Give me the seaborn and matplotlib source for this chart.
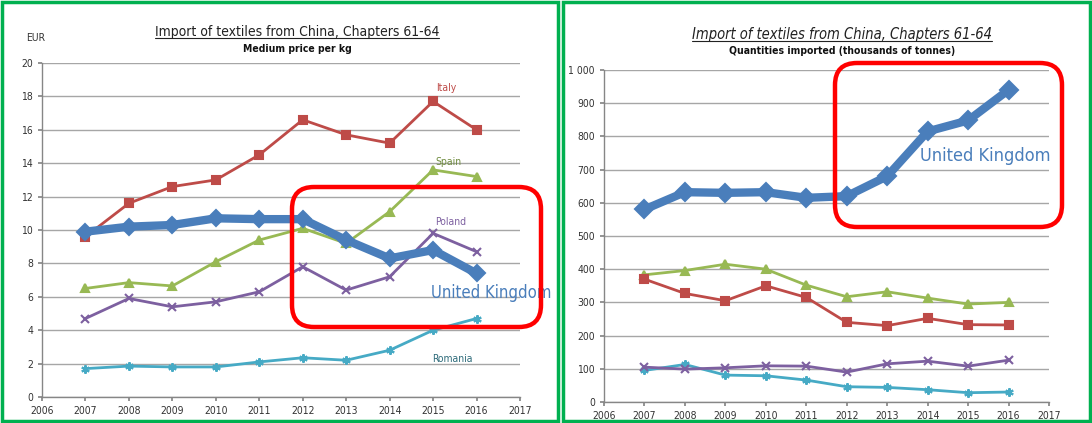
import numpy as np
import pandas as pd
import matplotlib
matplotlib.use('Agg')
import matplotlib.pyplot as plt
import seaborn as sns
from matplotlib.patches import FancyBboxPatch, Rectangle

sns.set_theme(style="white")
plt.rcParams['font.family'] = ['DejaVu Sans']
plt.rcParams['font.stretch'] = 'condensed'

years = [2007, 2008, 2009, 2010, 2011, 2012, 2013, 2014, 2015, 2016]
countries = ['United Kingdom', 'Italy', 'Spain', 'Poland', 'Romania']

# medium price per kg (EUR)
price_uk = [9.9, 10.2, 10.3, 10.7, 10.65, 10.65, 9.4, 8.3, 8.8, 7.4]
price_it = [9.6, 11.6, 12.6, 13.0, 14.5, 16.6, 15.7, 15.2, 17.7, 16.0]
price_es = [6.5, 6.85, 6.65, 8.1, 9.4, 10.1, 9.2, 11.1, 13.6, 13.2]
price_pl = [4.7, 5.9, 5.4, 5.7, 6.3, 7.8, 6.4, 7.2, 9.8, 8.7]
price_ro = [1.7, 1.85, 1.8, 1.8, 2.1, 2.35, 2.2, 2.8, 4.0, 4.7]

# quantities imported (thousands of tonnes)
qty_uk = [580, 632, 630, 632, 615, 620, 680, 815, 848, 940]
qty_it = [370, 327, 305, 350, 315, 240, 230, 252, 233, 232]
qty_es = [383, 396, 415, 400, 352, 317, 332, 313, 295, 300]
qty_pl = [105, 99, 103, 109, 108, 90, 115, 123, 108, 126]
qty_ro = [95, 113, 81, 79, 66, 46, 44, 37, 28, 30]

colors = {'United Kingdom': '#4A7EBB', 'Italy': '#BE4B48', 'Spain': '#98B954',
          'Poland': '#7D60A0', 'Romania': '#46AAC5'}
markers = {'United Kingdom': 'D', 'Italy': 's', 'Spain': '^', 'Poland': 'x',
           'Romania': (6, 2, 0)}


def make_df(uk, it, es, pl, ro):
    vals = {'United Kingdom': uk, 'Italy': it, 'Spain': es, 'Poland': pl, 'Romania': ro}
    rows = []
    for c in countries:
        for y, v in zip(years, vals[c]):
            rows.append((c, y, v))
    return pd.DataFrame(rows, columns=['country', 'year', 'value'])


def draw(ax, df, uk_ms):
    for c in ['Romania', 'Poland', 'Spain', 'Italy', 'United Kingdom']:
        sub = df[df.country == c]
        big = c == 'United Kingdom'
        sns.lineplot(data=sub, x='year', y='value', ax=ax, color=colors[c],
                     linewidth=6 if big else 2.0, marker=markers[c],
                     markersize=uk_ms if big else 6,
                     markeredgecolor=colors[c], markeredgewidth=1.5,
                     legend=False, zorder=5 if big else 3)
    ax.set_xlim(2006, 2017)
    ax.set_xticks(range(2006, 2018))
    ax.set_xlabel('')
    ax.set_ylabel('')
    ax.grid(axis='y', color='#A6A6A6', linewidth=1.0)
    for s in ['top', 'right']:
        ax.spines[s].set_visible(False)
    for s in ['left', 'bottom']:
        ax.spines[s].set_color('#868686')
        ax.spines[s].set_linewidth(1.0)
    ax.tick_params(axis='both', labelsize=7.5, colors='#333333', length=3,
                   direction='out', left=True, bottom=True, color='#868686')


fig = plt.figure(figsize=(10.92, 4.23), dpi=100)

ax1 = fig.add_axes([42 / 1092, 1 - 397 / 423, 478 / 1092, 334 / 423])
draw(ax1, make_df(price_uk, price_it, price_es, price_pl, price_ro), 8)
ax1.set_ylim(0, 20)
ax1.set_yticks(range(0, 21, 2))

ax2 = fig.add_axes([604 / 1092, 1 - 402 / 423, 445 / 1092, 332 / 423])
draw(ax2, make_df(qty_uk, qty_it, qty_es, qty_pl, qty_ro), 9)
ax2.set_ylim(0, 1000)
ax2.set_yticks(range(0, 1001, 100))
ax2.set_yticklabels([f'{v:,}'.replace(',', ' ') for v in range(0, 1001, 100)])

# series labels
ax1.text(2015.3, 18.5, 'Italy', color=colors['Italy'], fontsize=7.5, ha='center', va='center')
ax1.text(2015.35, 14.05, 'Spain', color='#6E8B3D', fontsize=7.5, ha='center', va='center')
ax1.text(2015.4, 10.5, 'Poland', color=colors['Poland'], fontsize=7.5, ha='center', va='center')
ax1.text(2015.45, 2.28, 'Romania', color='#2E6B7A', fontsize=7.5, ha='center', va='center')
ax1.text(2016.33, 6.2, 'United Kingdom', color=colors['United Kingdom'], fontsize=12,
         ha='center', va='center')
ax2.text(2015.42, 741, 'United Kingdom', color=colors['United Kingdom'], fontsize=13,
         ha='center', va='center')

# titles
t1 = fig.text(297 / 1092, 1 - 32 / 423, 'Import of textiles from China, Chapters 61-64',
              ha='center', va='center', fontsize=10, color='#222222')
fig.text(297 / 1092, 1 - 49 / 423, 'Medium price per kg', ha='center', va='center',
         fontsize=7.5, fontweight='bold', color='#111111')
fig.text(36 / 1092, 1 - 38 / 423, 'EUR', ha='center', va='center', fontsize=7.5, color='#333333')
t2 = fig.text(842 / 1092, 1 - 35 / 423, 'Import of textiles from China, Chapters 61-64',
              ha='center', va='center', fontsize=10.5, style='italic', color='#222222')
fig.text(842 / 1092, 1 - 51 / 423, 'Quantities imported (thousands of tonnes)',
         ha='center', va='center', fontsize=7.5, fontweight='bold', color='#111111')

# underline titles using their rendered extent
fig.canvas.draw()
for t in (t1, t2):
    bb = t.get_window_extent()
    fig.add_artist(plt.Line2D([bb.x0, bb.x1], [bb.y0 + 1, bb.y0 + 1], transform=None,
                              color='#222222', lw=0.8))

# green panel borders
fig.add_artist(Rectangle((2 / 1092, 2 / 423), 556 / 1092, 419 / 423, transform=fig.transFigure,
                         fill=False, edgecolor='#00B050', lw=2.5))
fig.add_artist(Rectangle((563 / 1092, 2 / 423), 527 / 1092, 419 / 423, transform=fig.transFigure,
                         fill=False, edgecolor='#00B050', lw=2.5))

# red highlight boxes
for x0, y0, x1, y1 in [(292, 187, 541, 327), (835, 63, 1062, 227)]:
    box = FancyBboxPatch((x0, 423 - y1), x1 - x0, y1 - y0,
                         boxstyle='round,pad=0,rounding_size=22',
                         transform=None, fill=False, edgecolor='#FF0000', lw=3.2, zorder=10)
    fig.add_artist(box)

fig.savefig('out.png', dpi=100)
